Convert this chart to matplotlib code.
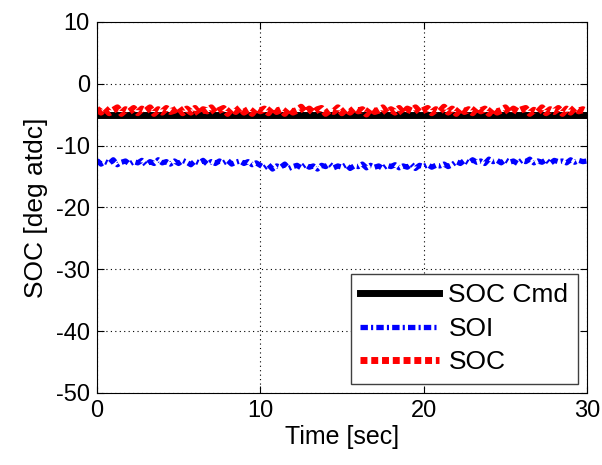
import numpy as np
import matplotlib.pyplot as plt

plt.rcParams['font.family'] = ['Liberation Sans', 'DejaVu Sans']
plt.rcParams['axes.unicode_minus'] = False

# time base (sec)
time = np.arange(0, 30.01, 0.25)

# SOC command [deg atdc]
soc_cmd = [-5.0] * len(time)

# measured SOC, jagged around -4.3
soc = [-4.1, -4.6, -4.0, -4.7, -4.3, -3.9, -4.8, -4.2, -4.5, -4.0,
       -4.7, -4.1, -4.4, -3.9, -4.8, -4.2, -4.6, -4.0, -4.5, -4.3,
       -3.8, -4.7, -4.1, -4.6, -4.0, -4.9, -4.2, -4.4, -3.9, -4.7,
       -4.3, -4.0, -4.8, -4.1, -4.5, -3.9, -4.6, -4.2, -4.8, -4.0,
       -4.4, -4.1, -4.7, -3.9, -4.5, -4.2, -4.8, -4.0, -4.6, -4.3,
       -3.8, -4.6, -4.1, -4.7, -4.2, -4.0, -4.8, -4.3, -4.5, -3.9,
       -4.7, -4.1, -4.6, -4.0, -4.4, -4.2, -4.9, -4.0, -4.5, -4.3,
       -3.9, -4.7, -4.2, -4.6, -4.0, -4.8, -4.1, -4.4, -3.9, -4.6,
       -4.3, -4.0, -4.7, -4.2, -4.5, -3.8, -4.6, -4.1, -4.8, -4.0,
       -4.5, -4.2, -4.7, -3.9, -4.4, -4.1, -4.8, -4.0, -4.6, -4.3,
       -3.9, -4.7, -4.1, -4.5, -4.2, -4.0, -4.8, -4.3, -4.6, -3.9,
       -4.7, -4.2, -4.5, -4.0, -4.8, -4.1, -4.6, -3.9, -4.4, -4.2,
       -4.5]

# SOI, around -12.7, dipping to about -13.4 between 10 and 22 s
soi = [-12.4, -13.0, -12.6, -12.9, -12.3, -13.1, -12.7, -12.5, -13.0, -12.6,
       -12.8, -12.4, -13.1, -12.6, -12.9, -12.3, -12.8, -12.6, -13.0, -12.5,
       -12.9, -12.4, -12.7, -13.1, -12.5, -12.8, -12.4, -13.0, -12.6, -12.9,
       -12.5, -12.8, -12.4, -13.0, -12.7, -12.5, -12.9, -12.6, -13.1, -12.8,
       -13.2, -13.6, -13.1, -13.8, -13.3, -13.5, -13.0, -13.7, -13.4, -13.2,
       -13.6, -13.1, -13.5, -13.3, -13.8, -13.2, -13.4, -13.0, -13.6, -13.3,
       -13.5, -13.1, -13.7, -13.3, -13.4, -13.0, -13.6, -13.2, -13.5, -13.3,
       -13.7, -13.2, -13.4, -13.1, -13.6, -13.3, -13.5, -13.0, -13.7, -13.2,
       -13.4, -13.1, -13.5, -13.2, -13.3, -13.0, -13.4, -13.1, -12.6, -12.9,
       -12.4, -12.8, -12.3, -12.7, -12.5, -12.9, -12.2, -12.6, -12.4, -12.8,
       -12.3, -12.7, -12.5, -12.9, -12.4, -12.6, -12.2, -12.8, -12.5, -12.7,
       -12.3, -12.9, -12.4, -12.6, -12.5, -12.8, -12.3, -12.7, -12.4, -12.6,
       -12.5]

fig = plt.figure(figsize=(6.02, 4.65), dpi=100)
ax = fig.add_axes([0.161, 0.155, 0.814, 0.798])

ax.plot(time, soc_cmd, color='black', lw=5, ls='-', label='SOC Cmd')
ax.plot(time, soi, color='blue', lw=3.8, ls=(0, (1.4, 0.6, 0.4, 0.6)), label='SOI')
ax.plot(time, soc, color='red', lw=5, ls=(0, (1.0, 0.55)), label='SOC')

ax.set_xlim(0, 30)
ax.set_ylim(-50, 10)
ax.set_xticks([0, 10, 20, 30])
ax.set_yticks(np.arange(-50, 11, 10))
ax.grid(True, color='black', ls=(0, (1, 3)), lw=0.8)
ax.tick_params(direction='in', top=True, right=True, labelsize=17, length=5, pad=5)
for s in ax.spines.values():
    s.set_linewidth(0.8)

ax.set_xlabel('Time [sec]', fontsize=18, labelpad=2)
ax.set_ylabel('SOC [deg atdc]', fontsize=19, labelpad=6)

leg = ax.legend(loc='lower right', fontsize=19, fancybox=False, framealpha=1,
                edgecolor='#404040', handlelength=3.0, borderaxespad=0.35,
                labelspacing=0.36, handletextpad=0.35, borderpad=0.35)
leg.get_frame().set_linewidth(1.0)

fig.savefig('out.png', dpi=100)
